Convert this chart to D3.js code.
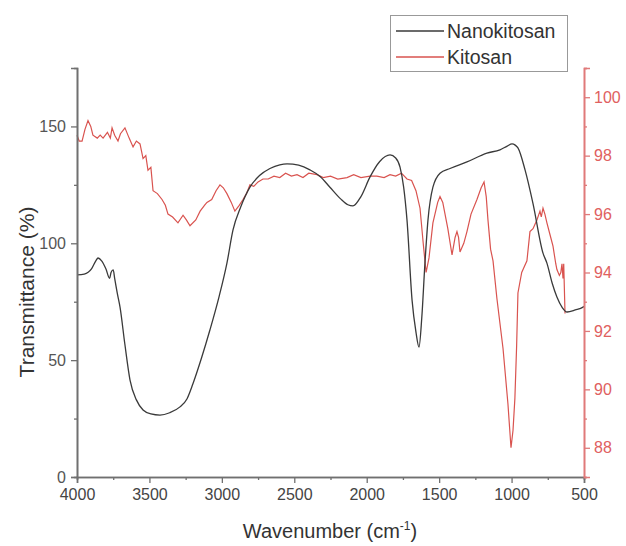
<!DOCTYPE html>
<html>
<head>
<meta charset="utf-8">
<script src="https://cdn.jsdelivr.net/npm/d3@7/dist/d3.min.js"></script>
<style>
  body { margin: 0; background: #fff; }
  text { font-family: "Liberation Sans", Arial, sans-serif; }
</style>
</head>
<body>
<svg width="626" height="546"></svg>
<script>
// Nanokitosan (left axis, %)
const nanoWave = [4000, 3950, 3900, 3870, 3855, 3830, 3800, 3775, 3765, 3750, 3740, 3720, 3703, 3670, 3634, 3590, 3544, 3490, 3427, 3360, 3289, 3240, 3199, 3140, 3082, 3020, 2965, 2923, 2870, 2806, 2740, 2668, 2600, 2550, 2470, 2392, 2320, 2254, 2180, 2130, 2095, 2040, 1977, 1910, 1839, 1800, 1770, 1745, 1722, 1687, 1660, 1639, 1620, 1598, 1577, 1543, 1494, 1425, 1308, 1170, 1080, 1030, 997, 975, 956, 907, 852, 783, 756, 720, 687, 650, 617, 560, 507, 500];
const nanoT = [86.5, 86.8, 89, 92.5, 93.7, 92.5, 89, 85, 87.5, 88.6, 85, 78, 72.7, 57, 41.5, 33, 28.7, 27, 26.5, 27.5, 30, 33.5, 40, 51, 63, 77, 91.5, 105.7, 115.5, 124, 129, 132, 133.6, 134, 133.4, 131.4, 128.5, 124, 119, 116.5, 116, 120, 128.4, 135, 137.8, 136.5, 132.6, 124, 110, 75.7, 62, 55.6, 68, 91.5, 110, 124, 130, 132, 134.8, 138.6, 140, 141.6, 142.5, 142, 140.8, 131.4, 117, 95.8, 91.5, 83, 77, 72.5, 70.6, 71.5, 72.7, 73];

// Kitosan (right axis, %)
const kitoWave = [4000, 3985, 3965, 3945, 3924, 3905, 3890, 3860, 3840, 3820, 3790, 3770, 3758, 3740, 3717, 3700, 3669, 3640, 3613, 3590, 3565, 3544, 3525, 3510, 3490, 3475, 3445, 3413, 3390, 3372, 3340, 3303, 3268, 3245, 3220, 3180, 3150, 3120, 3103, 3070, 3040, 3013, 2990, 2965, 2935, 2910, 2880, 2854, 2830, 2806, 2780, 2750, 2716, 2680, 2640, 2600, 2560, 2520, 2481, 2440, 2400, 2343, 2300, 2250, 2200, 2136, 2090, 2040, 1977, 1930, 1880, 1839, 1800, 1760, 1722, 1690, 1660, 1632, 1610, 1590, 1570, 1543, 1510, 1494, 1475, 1440, 1411, 1390, 1377, 1366, 1356, 1330, 1308, 1280, 1239, 1210, 1190, 1175, 1163, 1145, 1128, 1101, 1059, 1025, 1004, 990, 977, 965, 956, 930, 894, 873, 852, 825, 804, 795, 783, 770, 756, 735, 714, 695, 687, 670, 660, 652, 645, 640, 631];
const kitoT = [98.7, 98.5, 98.5, 98.9, 99.2, 99.0, 98.7, 98.6, 98.7, 98.6, 98.8, 98.6, 98.95, 98.7, 98.5, 98.75, 98.95, 98.6, 98.3, 98.5, 98.4, 97.9, 98.0, 97.5, 97.6, 96.8, 96.7, 96.5, 96.3, 96.0, 95.9, 95.7, 95.96, 95.8, 95.6, 95.8, 96.1, 96.3, 96.4, 96.5, 96.8, 97.0, 96.9, 96.7, 96.4, 96.1, 96.3, 96.5, 96.7, 97.0, 96.95, 97.1, 97.2, 97.2, 97.3, 97.25, 97.4, 97.3, 97.35, 97.25, 97.4, 97.35, 97.25, 97.3, 97.2, 97.25, 97.35, 97.25, 97.3, 97.3, 97.25, 97.35, 97.3, 97.4, 97.2, 97.15, 96.8, 96.2, 95.0, 94.0, 94.5, 95.7, 96.4, 96.6, 96.4, 95.5, 94.6, 95.2, 95.4, 95.2, 94.7, 95.0, 95.4, 96.0, 96.5, 96.9, 97.1, 96.6, 95.8, 94.8, 94.4, 93.1, 91.4, 89.5, 88.0, 88.6, 89.7, 91.5, 93.3, 94.0, 94.4, 95.4, 95.5, 95.8, 96.1, 95.9, 96.2, 96.0, 95.7, 95.3, 94.9, 94.3, 94.1, 93.9, 94.0, 94.3, 93.8, 94.3, 92.6];

const xTicks = [4000, 3500, 3000, 2500, 2000, 1500, 1000, 500];
const xMinor = [3750, 3250, 2750, 2250, 1750, 1250, 750];
const leftTicks = [0, 50, 100, 150];
const leftMinor = [25, 75, 125];
const rightTicks = [88, 90, 92, 94, 96, 98, 100];
const rightMinor = [87, 89, 91, 93, 95, 97, 99, 101];

const seriesNames = ["Nanokitosan", "Kitosan"];

const margin = {left: 77, right: 42, top: 68, bottom: 69};
const width = 626, height = 546;
const blackCol = "#3a3a3a", redCol = "#d9534f", axisCol = "#707070", redAxis = "#e07a7a";

const svg = d3.select("svg");

const x = d3.scaleLinear().domain([4000, 500]).range([margin.left, width - margin.right]);
const yL = d3.scaleLinear().domain([0, 175]).range([height - margin.bottom, margin.top]);
const yR = d3.scaleLinear().domain([87, 101]).range([height - margin.bottom, margin.top]);

// lines
const nanoData = nanoWave.map((w, i) => [w, nanoT[i]]);
const kitoData = kitoWave.map((w, i) => [w, kitoT[i]]);

svg.append("path")
    .datum(kitoData)
    .attr("fill", "none")
    .attr("stroke", redCol)
    .attr("stroke-width", 1.2)
    .attr("d", d3.line().x(d => x(d[0])).y(d => yR(d[1])));

svg.append("path")
    .datum(nanoData)
    .attr("fill", "none")
    .attr("stroke", blackCol)
    .attr("stroke-width", 1.3)
    .attr("d", d3.line().curve(d3.curveMonotoneX).x(d => x(d[0])).y(d => yL(d[1])));

// axes
function styleAxis(g, col) {
    g.selectAll("path").attr("stroke", col).attr("stroke-width", 1.6);
    g.selectAll("line").attr("stroke", col).attr("stroke-width", 1.3);
    g.selectAll("text").attr("fill", col).style("font-size", "16px");
}

const bottom = svg.append("g").attr("transform", `translate(0,${height - margin.bottom})`);
bottom.call(d3.axisBottom(x).tickValues(xMinor).tickSize(3).tickFormat(""));
bottom.call(g => styleAxis(g, axisCol));
const bottomMajor = svg.append("g").attr("transform", `translate(0,${height - margin.bottom})`)
    .call(d3.axisBottom(x).tickValues(xTicks).tickSize(6).tickPadding(6).tickFormat(d3.format("d")));
styleAxis(bottomMajor, axisCol);
bottomMajor.selectAll("text").attr("fill", "#444");

const left = svg.append("g").attr("transform", `translate(${margin.left},0)`);
left.call(d3.axisLeft(yL).tickValues(leftMinor).tickSize(3).tickFormat(""));
styleAxis(left, axisCol);
const leftMajor = svg.append("g").attr("transform", `translate(${margin.left},0)`)
    .call(d3.axisLeft(yL).tickValues(leftTicks).tickSize(6).tickPadding(5));
styleAxis(leftMajor, axisCol);
leftMajor.selectAll("text").attr("fill", "#555");

const right = svg.append("g").attr("transform", `translate(${width - margin.right},0)`);
right.call(d3.axisRight(yR).tickValues(rightMinor).tickSize(3).tickFormat(""));
styleAxis(right, redAxis);
const rightMajor = svg.append("g").attr("transform", `translate(${width - margin.right},0)`)
    .call(d3.axisRight(yR).tickValues(rightTicks).tickSize(6).tickPadding(4));
styleAxis(rightMajor, redAxis);
rightMajor.selectAll("text").attr("fill", "#e06060");

// axis titles
svg.append("text")
    .attr("transform", "translate(34,292) rotate(-90)")
    .attr("text-anchor", "middle")
    .attr("fill", "#333")
    .style("font-size", "21px")
    .text("Transmittance (%)");

const xt = svg.append("text")
    .attr("x", 330).attr("y", 538)
    .attr("text-anchor", "middle")
    .attr("fill", "#333")
    .style("font-size", "20px");
xt.append("tspan").text("Wavenumber (cm");
xt.append("tspan").attr("dy", -8).style("font-size", "12px").text("-1");
xt.append("tspan").attr("dy", 8).text(")");

// legend
const legend = svg.append("g");
legend.append("rect")
    .attr("x", 390.5).attr("y", 15.5).attr("width", 177).attr("height", 56)
    .attr("fill", "#fff").attr("stroke", "#999").attr("stroke-width", 1);
const legCols = [blackCol, redCol];
seriesNames.forEach((name, i) => {
    const yy = 31 + i * 26;
    legend.append("line")
        .attr("x1", 396).attr("x2", 444).attr("y1", yy).attr("y2", yy)
        .attr("stroke", legCols[i]).attr("stroke-width", 1.3);
    legend.append("text")
        .attr("x", 447).attr("y", yy + 7)
        .attr("fill", "#333")
        .style("font-size", "19.5px")
        .text(name);
});
</script>
</body>
</html>
